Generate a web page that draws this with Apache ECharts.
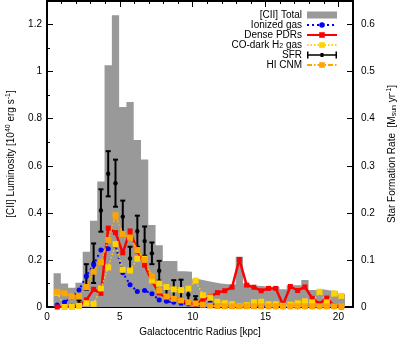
<!DOCTYPE html>
<html><head><meta charset="utf-8">
<script src="https://cdn.jsdelivr.net/npm/echarts@6/dist/echarts.min.js"></script>
<style>html,body{margin:0;padding:0;background:#fff}#c{width:399px;height:337px}</style>
</head><body><div id="c"></div>
<script>
// Galactocentric radius of each annulus (kpc)
const radii = [0.7,1.2,1.7,2.2,2.7,3.2,3.7,4.2,4.7,5.2,5.7,6.2,6.7,7.2,7.7,8.2,8.7,9.2,9.7,10.2,
               10.7,11.2,11.7,12.2,12.7,13.2,13.7,14.2,14.7,15.2,15.7,16.2,16.7,17.2,17.7,18.2,18.7,19.2,19.7,20.2];
// [CII] luminosity (1e40 erg/s)
const ciiTotal = [0.143,0.100,0.082,0.103,0.235,0.366,0.533,1.027,1.239,0.850,0.871,0.709,0.627,0.348,0.262,0.195,0.195,0.152,0.150,0.118,
                  0.112,0.105,0.100,0.097,0.097,0.213,0.100,0.090,0.088,0.086,0.086,0.075,0.092,0.092,0.115,0.072,0.075,0.070,0.068,0.055];
const ionizedGas = [0.008,0.020,0.044,0.072,0.132,0.180,0.242,0.247,0.262,0.145,0.095,0.066,0.070,0.056,0.030,0.024,0.020,0.016,0.013,0.010,
                    0.008,0.018,0.006,0.003,0.002,0.002,0.002,0.002,0.002,0.001,0.001,0.001,0.001,0.001,0.001,0.001,0.001,0.001,0.001,0.001];
const densePDRs = [0.000,0.000,0.000,0.005,0.030,0.075,0.058,0.335,0.316,0.230,0.323,0.238,0.178,0.110,0.060,0.040,0.035,0.028,0.018,0.012,
                   0.030,0.044,0.061,0.069,0.084,0.202,0.093,0.084,0.069,0.079,0.079,0.010,0.087,0.070,0.085,0.037,0.014,0.038,0.005,0.000];
const coDarkH2 = [0.060,0.000,0.000,0.005,0.016,0.013,0.079,0.168,0.267,0.158,0.155,0.205,0.205,0.112,0.100,0.085,0.075,0.072,0.078,0.112,
                  0.050,0.040,0.022,0.016,0.012,0.004,0.008,0.020,0.022,0.012,0.012,0.005,0.010,0.016,0.024,0.020,0.065,0.020,0.057,0.047];
const hiCNM = [0.065,0.058,0.046,0.045,0.085,0.150,0.190,0.285,0.390,0.310,0.295,0.242,0.200,0.130,0.070,0.045,0.035,0.028,0.020,0.015,
               0.010,0.006,0.004,0.003,0.003,0.003,0.003,0.003,0.003,0.003,0.003,0.003,0.003,0.003,0.003,0.003,0.003,0.003,0.003,0.003];
// Star formation rate (Msun/yr) and its uncertainty
const sfr = [0.000,0.000,0.002,0.007,0.064,0.093,0.205,0.283,0.263,0.192,0.103,0.161,0.140,0.114,0.077,0.025,0.037,0.038,0.026,0.015,
             0.004,0.003,0.002,0.002,0.002,0.002,0.002,0.002,0.002,0.002,0.002,0.002,0.002,0.002,0.002,0.002,0.002,0.002,0.002,0.002];
const sfrErr = [0.000,0.000,0.002,0.007,0.027,0.042,0.045,0.048,0.050,0.034,0.025,0.033,0.031,0.023,0.021,0.013,0.020,0.020,0.015,0.008,
                0.003,0.002,0.002,0.002,0.002,0.002,0.002,0.002,0.002,0.002,0.002,0.002,0.002,0.002,0.002,0.002,0.002,0.002,0.002,0.002];
const seriesNames = ['[CII] Total','Ionized gas','Dense PDRs','CO-dark H2 gas','SFR','HI CNM'];

const FONT = '"Liberation Sans", Arial, Helvetica, sans-serif';
const binW = radii[1] - radii[0];
const pair = arr => radii.map((r, i) => [r, arr[i]]);
// histogram outline: each bin spans radius +/- half a bin width
const histSteps = radii.map((r, i) => [r - binW / 2, ciiTotal[i]])
  .concat([[radii[radii.length - 1] + binW / 2, ciiTotal[ciiTotal.length - 1]]]);
const chart = echarts.init(document.getElementById('c'), null, {renderer: 'canvas'});

const sup = {fontSize: 7, lineHeight: 5, verticalAlign: 'top', fontFamily: FONT, color: '#000'};
const sub = {fontSize: 7, lineHeight: 5, verticalAlign: 'bottom', fontFamily: FONT, color: '#000'};
const AX = {color: '#000', width: 2};

function xAx(pos, interval, len, main) {
  return {type: 'value', min: 0, max: 21, interval: interval, position: pos, gridIndex: 0,
    axisLine: {show: main, onZero: false, lineStyle: AX},
    axisTick: {show: true, inside: true, length: len, lineStyle: {color: '#000', width: 1}},
    splitLine: {show: false},
    axisLabel: {show: main && pos === 'bottom', showMaxLabel: false, fontSize: 10, color: '#000', fontFamily: FONT, margin: 5},
    name: main && pos === 'bottom' ? 'Galactocentric Radius [kpc]' : '',
    nameLocation: 'middle', nameGap: 19,
    nameTextStyle: {fontSize: 10, color: '#000', fontFamily: FONT}};
}

const option = {
  animation: false,
  textStyle: {fontFamily: FONT},
  grid: {left: 47, right: 46, top: 1, bottom: 30, containLabel: false, outerBoundsMode: 'none'},
  legend: {
    orient: 'vertical', right: 56, top: 5, align: 'right', selectedMode: false,
    itemWidth: 30, itemHeight: 7, itemGap: 0,
    textStyle: {fontSize: 10, lineHeight: 10, color: '#000', fontFamily: FONT, rich: {sub: sub}},
    formatter: n => n === 'CO-dark H2 gas' ? 'CO-dark H{sub|2} gas' : n,
    data: [
      {name: seriesNames[0], icon: 'rect', itemStyle: {color: '#999999'}},
      {name: seriesNames[1]},
      {name: seriesNames[2]},
      {name: seriesNames[3]},
      {name: seriesNames[4], icon: 'path://M0,0h1.5v7h-1.5z M0,2.8h30v1.4h-30z M28.5,0h1.5v7h-1.5z M13.5,1.5h3v4h-3z'},
      {name: seriesNames[5]}
    ]
  },
  xAxis: [xAx('bottom', 5, 6, true), xAx('top', 5, 6, true), xAx('bottom', 1, 3, false), xAx('top', 1, 3, false)],
  yAxis: [
    {type: 'value', min: 0, max: 1.3, interval: 0.2, position: 'left',
      axisLine: {show: true, onZero: false, lineStyle: AX},
      axisTick: {show: true, inside: true, length: 6, lineStyle: {color: '#000'}},
      splitLine: {show: false},
      axisLabel: {showMaxLabel: false, fontSize: 10, color: '#000', fontFamily: FONT, margin: 5},
      name: '[CII] Luminosity [10{sup|40} erg s{sup|-1}]', nameLocation: 'middle', nameRotate: 90, nameGap: 30,
      nameTextStyle: {fontSize: 10, lineHeight: 12, color: '#000', fontFamily: FONT, rich: {sup: sup, sub: sub}}},
    {type: 'value', min: 0, max: 0.65, interval: 0.1, position: 'right',
      axisLine: {show: true, onZero: false, lineStyle: AX},
      axisTick: {show: true, inside: true, length: 6, lineStyle: {color: '#000'}},
      splitLine: {show: false},
      axisLabel: {showMaxLabel: false, fontSize: 10, color: '#000', fontFamily: FONT, margin: 8},
      name: 'Star Formation Rate  [M{sub|sun} yr{sup|-1}]', nameLocation: 'middle', nameRotate: 90, nameGap: 33,
      nameTextStyle: {fontSize: 10, lineHeight: 12, color: '#000', fontFamily: FONT, rich: {sup: sup, sub: sub}}},
    {type: 'value', min: 0, max: 1.3, interval: 0.1, position: 'left',
      axisLine: {show: false}, axisTick: {show: true, inside: true, length: 3, lineStyle: {color: '#000'}},
      splitLine: {show: false}, axisLabel: {show: false}}
  ],
  series: [
    {name: seriesNames[0], type: 'line', xAxisIndex: 0, yAxisIndex: 0, step: 'end',
      data: histSteps, symbol: 'none', z: 1,
      itemStyle: {color: '#999999'},
      lineStyle: {width: 0, color: '#999999'},
      areaStyle: {color: '#999999', opacity: 1}},
    {name: seriesNames[1], type: 'line', xAxisIndex: 0, yAxisIndex: 0, data: pair(ionizedGas),
      symbol: 'circle', symbolSize: 5, itemStyle: {color: '#0000ff'},
      lineStyle: {color: '#0000ff', width: 2, type: [2, 3]}},
    {name: seriesNames[2], type: 'line', xAxisIndex: 0, yAxisIndex: 0, data: pair(densePDRs),
      symbol: 'rect', symbolSize: 5, itemStyle: {color: '#ff0000'},
      lineStyle: {color: '#ff0000', width: 2.5}},
    {name: seriesNames[3], type: 'line', xAxisIndex: 0, yAxisIndex: 0, data: pair(coDarkH2),
      symbol: 'rect', symbolSize: 6, itemStyle: {color: '#ffd200'},
      lineStyle: {color: '#ffd200', width: 1.5, type: [1.5, 2]}},
    {name: seriesNames[4], type: 'custom', xAxisIndex: 0, yAxisIndex: 1, clip: true,
      itemStyle: {color: '#000'},
      data: radii.map((r, i) => [r, sfr[i], sfrErr[i]]),
      encode: {x: 0, y: 1},
      renderItem: function (params, api) {
        const x = api.value(0), y = api.value(1), e = api.value(2);
        const c = api.coord([x, y]);
        const hi = api.coord([x, y + e]);
        const lo = api.coord([x, Math.max(y - e, 0)]);
        const cap = 2.5, st = {stroke: '#000', lineWidth: 2};
        return {type: 'group', children: [
          {type: 'line', shape: {x1: c[0], y1: hi[1], x2: c[0], y2: lo[1]}, style: st},
          {type: 'line', shape: {x1: c[0] - cap, y1: hi[1], x2: c[0] + cap, y2: hi[1]}, style: st},
          {type: 'line', shape: {x1: c[0] - cap, y1: lo[1], x2: c[0] + cap, y2: lo[1]}, style: st},
          {type: 'circle', shape: {cx: c[0], cy: c[1], r: 2.2}, style: {fill: '#000'}}
        ]};
      }},
    {name: seriesNames[5], type: 'line', xAxisIndex: 0, yAxisIndex: 0, data: pair(hiCNM),
      symbol: 'rect', symbolSize: 6, itemStyle: {color: '#ffa500'},
      lineStyle: {color: '#ffa500', width: 1.8, type: [5, 2, 1.5, 2]}}
  ]
};
chart.setOption(option);
</script></body></html>
